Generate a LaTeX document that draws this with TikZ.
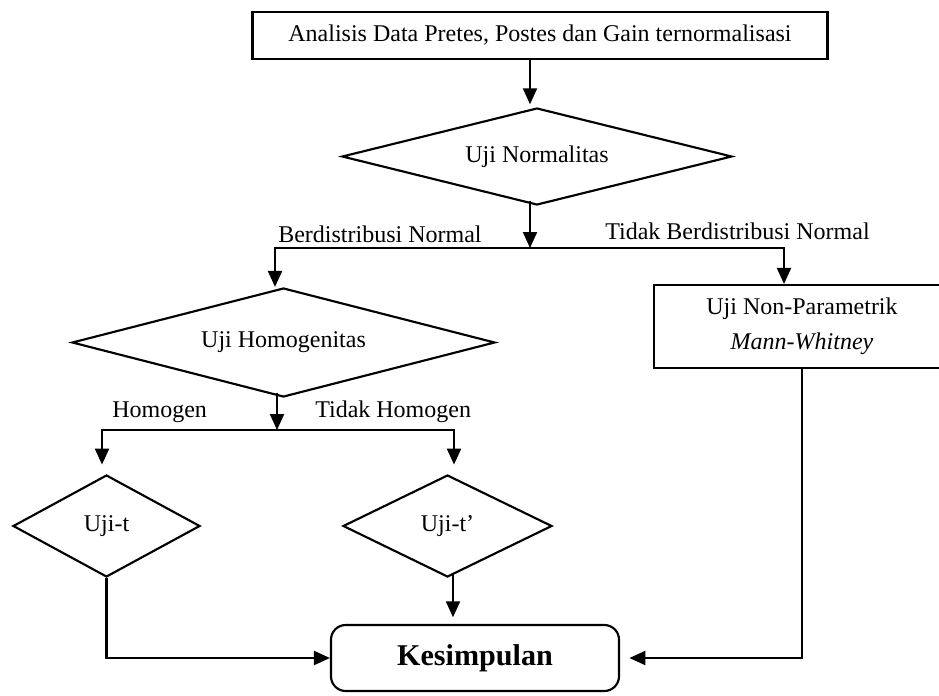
\documentclass[tikz,border=0pt]{standalone}
\usepackage{fontspec}
\setmainfont{Liberation Serif}
\usetikzlibrary{arrows.meta,shapes.geometric}
\tikzset{
  px/.style={x=0.75pt,y=-0.75pt},
  ln/.style={line width=1.6pt, line join=miter},
  arr/.style={ln, -{Triangle[width=10.5pt,length=12pt]}},
  darr/.style={ln, {Triangle[width=10.5pt,length=12pt]}-{Triangle[width=10.5pt,length=12pt]}},
  boxnode/.style={draw, line width=1.6pt, inner sep=0pt, align=center, font=\fontsize{18}{26}\selectfont},
  diam/.style n args={3}{draw, line width=1.6pt, diamond, aspect=#3, inner sep=0pt,
     minimum width=#1*0.75pt, minimum height=#2*0.75pt, font=\fontsize{18}{22}\selectfont},
  lbl/.style={inner sep=0pt, anchor=base west, font=\fontsize{18}{22}\selectfont},
}
\begin{document}
\begin{tikzpicture}[px]
\useasboundingbox (0,0) rectangle (939,696);
% nodes
\node[boxnode, minimum width=431.25pt, minimum height=35.25pt] (top) at (540,35.5)
  {Analisis Data Pretes, Postes dan Gain ternormalisasi};
\node[diam={390}{97}{4.02}] (norm) at (537,156.5) {Uji Normalitas};
\node[diam={423}{109}{3.88}] (homog) at (283.5,342.5) {Uji Homogenitas};
\node[boxnode, minimum width=222pt, minimum height=62.25pt] (np) at (802,326.5)
  {Uji Non-Parametrik\\\textit{Mann-Whitney}};
\node[diam={187}{102}{1.83}] (ujit) at (106.5,526) {Uji-t};
\node[diam={209}{102}{2.05}] (ujitp) at (447.5,526) {Uji-t’};
\node[draw, line width=1.6pt, rounded corners=11pt, minimum width=216pt, minimum height=49.5pt,
  font=\fontsize{22.6}{26}\selectfont\bfseries] (kes) at (475,658) {Kesimpulan};
% labels
\node[lbl] (l1) at (278,242) {Berdistribusi Normal};
\node[lbl] (l2) at (605,239) {Tidak Berdistribusi Normal};
\node[lbl] (l3) at (112,417) {Homogen};
\node[lbl] (l4) at (315,417) {Tidak Homogen};
% helper coordinates
\coordinate (xa) at (530,0);
\coordinate (j1) at (530,248);
\coordinate (L1) at (275,248);
\coordinate (R1) at (784,248);
\coordinate (xb) at (277,0);
\coordinate (j2) at (277,430);
\coordinate (L2) at (102,430);
\coordinate (R2) at (454,430);
\coordinate (xc) at (453,0);
% connectors
\draw[arr, shorten >=2pt] (top.south -| xa) -- (norm.north -| xa);
\draw[arr] ([yshift=4pt]norm.south -| xa) -- (j1);
\draw[darr] (homog.north -| L1) -- (L1) -- (R1) -- (np.north -| R1);
\draw[arr] ([yshift=4pt]homog.south -| xb) -- (j2);
\draw[darr, shorten <=7pt, shorten >=7pt] (ujit.north -| L2) -- (L2) -- (R2) -- (ujitp.north -| R2);
\draw[arr] (ujit.south) -- (ujit.south |- kes.west) -- (kes.west);
\draw[arr, shorten >=5pt] ([yshift=3pt]ujitp.south -| xc) -- (kes.north -| xc);
\draw[arr, shorten >=7pt] (np.south) -- (np.south |- kes.east) -- (kes.east);
\end{tikzpicture}
\end{document}
